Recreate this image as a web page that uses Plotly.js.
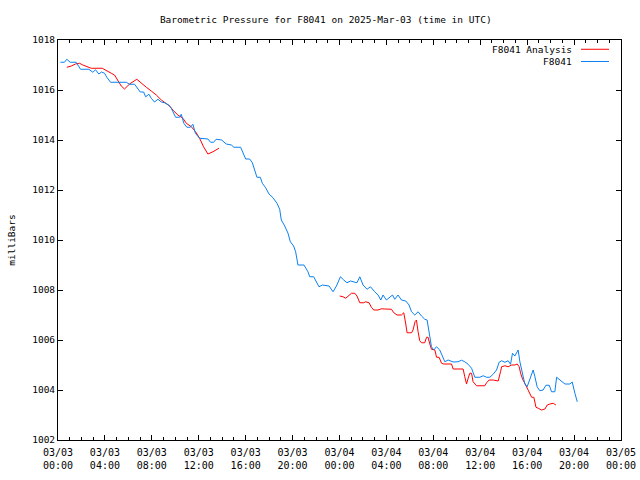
<!DOCTYPE html>
<html>
<head>
<meta charset="utf-8">
<script src="https://cdn.plot.ly/plotly-3.0.1.min.js"></script>
<style>html,body{margin:0;padding:0;background:#fff;}#chart{width:640px;height:480px;}</style>
</head>
<body>
<div id="chart"></div>
<script>
// Hours since 2025-03-03 00:00 UTC
const stationHours = [0.21,0.55,0.75,1.04,1.55,1.77,1.92,2.63,2.97,3.20,3.48,3.71,3.97,4.16,4.48,5.82,6.10,6.53,6.72,7.01,7.30,7.47,7.75,7.95,8.23,8.52,8.81,9.09,9.45,9.66,10.03,10.37,10.51,10.73,10.99,11.28,11.50,11.71,12.07,12.78,13.01,13.27,13.48,13.95,14.35,14.78,15.0,15.57,16.0,16.34,16.57,16.77,16.96,17.25,17.42,17.70,17.99,18.33,18.67,18.90,19.04,19.33,19.61,19.81,20.09,20.26,20.46,20.97,21.31,21.46,21.80,22.25,22.54,23.11,23.45,23.74,24.08,24.36,24.64,24.93,25.49,25.73,26.01,26.35,26.64,27.0,27.29,27.52,27.71,28.0,28.28,28.52,28.71,28.99,29.28,29.65,29.93,30.14,30.42,30.70,30.99,31.27,31.47,31.70,31.84,32.04,32.27,32.55,32.78,32.98,33.26,33.69,34.11,34.40,34.68,34.97,35.26,35.39,35.54,35.96,36.25,36.54,36.82,37.10,37.39,37.61,37.82,38.10,38.38,38.58,38.75,38.95,39.10,39.23,39.38,39.61,39.80,40.0,40.23,40.51,40.66,40.85,41.08,41.36,41.60,41.88,42.08,42.36,42.51,42.79,43.22,43.64,43.84,44.07,44.27];
const stationPressure = [1017.11,1017.11,1017.23,1017.11,1017.11,1016.96,1016.83,1016.83,1016.71,1016.81,1016.64,1016.72,1016.67,1016.51,1016.31,1016.31,1016.23,1016.23,1016.11,1015.92,1015.92,1015.73,1015.83,1015.67,1015.52,1015.63,1015.52,1015.49,1015.40,1015.27,1014.91,1014.91,1015.03,1014.67,1014.51,1014.51,1014.63,1014.27,1014.07,1014.04,1013.91,1013.91,1014.03,1014.0,1013.84,1013.80,1013.71,1013.71,1013.24,1013.24,1013.09,1012.80,1012.51,1012.51,1012.27,1012.09,1011.84,1011.69,1011.47,1011.23,1010.80,1010.56,1010.27,1009.93,1009.76,1009.53,1009.0,1009.0,1008.73,1008.53,1008.53,1008.13,1008.2,1008.16,1007.93,1008.16,1008.53,1008.40,1008.29,1008.36,1008.29,1008.53,1008.2,1008.03,1008.13,1007.93,1007.8,1007.6,1007.8,1007.6,1007.73,1007.8,1007.63,1007.8,1007.6,1007.56,1007.4,1007.13,1007.0,1007.13,1006.96,1006.83,1006.8,1006.2,1005.73,1005.6,1005.73,1005.6,1005.33,1005.13,1005.2,1005.12,1005.13,1005.19,1005.13,1005.03,1004.87,1004.67,1004.51,1004.51,1004.57,1004.51,1004.51,1004.63,1004.80,1005.11,1005.17,1005.11,1005.17,1005.03,1005.47,1005.36,1005.53,1005.6,1005.13,1004.6,1004.24,1004.13,1004.4,1004.8,1004.53,1004.13,1003.97,1004.0,1004.19,1004.19,1003.93,1003.93,1004.51,1004.40,1004.24,1004.24,1004.32,1003.87,1003.53];

const analysisHours = [0.75,1.13,1.49,1.83,2.12,2.54,2.83,3.77,4.11,4.54,4.82,5.10,5.39,5.67,6.10,6.72,7.10,7.53,7.95,8.38,8.81,9.17,9.51,9.85,10.22,10.65,10.94,11.37,11.73,12.07,12.41,12.78,13.21,13.72,18.9,24.02,24.30,24.53,24.81,25.02,25.30,25.49,25.73,26.07,26.21,26.52,26.72,26.92,27.29,27.58,27.86,28.43,28.63,28.91,29.28,29.48,29.65,29.76,30.14,30.27,30.44,30.56,30.70,30.84,30.99,31.27,31.42,31.55,31.70,31.84,32.13,32.27,32.49,32.70,32.89,33.55,33.69,34.54,34.68,34.83,34.97,35.11,35.26,35.39,35.68,36.39,36.54,36.76,37.10,37.53,37.73,37.82,38.10,38.38,38.67,38.95,39.15,39.32,39.44,39.61,39.80,40.0,40.17,40.38,40.57,40.75,40.94,41.23,41.51,41.71,41.94,42.22,42.45];
const analysisPressure = [1016.91,1016.96,1017.04,1017.07,1017.0,1016.91,1016.87,1016.87,1016.77,1016.67,1016.6,1016.4,1016.16,1016.04,1016.24,1016.43,1016.27,1016.11,1015.96,1015.8,1015.6,1015.47,1015.36,1015.17,1015.0,1014.87,1014.67,1014.53,1014.33,1014.07,1013.73,1013.44,1013.53,1013.67,null,1007.76,1007.73,1007.67,1007.8,1007.87,1007.87,1007.76,1007.49,1007.49,1007.53,1007.49,1007.31,1007.2,1007.2,1007.25,1007.24,1007.23,1007.09,1007.0,1007.0,1007.09,1006.64,1006.29,1006.29,1006.4,1006.73,1006.8,1006.33,1005.97,1005.89,1005.89,1006.11,1006.11,1005.84,1005.63,1005.6,1005.31,1005.31,1005.07,1005.04,1005.04,1004.84,1004.84,1004.53,1004.24,1004.47,1004.67,1004.67,1004.33,1004.17,1004.17,1004.29,1004.4,1004.4,1004.36,1004.73,1004.93,1004.97,1004.93,1005.0,1005.0,1005.04,1004.93,1004.67,1004.43,1004.27,1004.07,1003.87,1003.71,1003.71,1003.31,1003.27,1003.2,1003.24,1003.4,1003.44,1003.47,1003.4];

const seriesNames = ['F8041 Analysis', 'F8041'];
const seriesColors = ['#ff0000', '#0a80f0'];
const titleText = 'Barometric Pressure for F8041 on 2025-Mar-03 (time in UTC)';
const yTitle = 'milliBars';
const xStart = '2025-03-03 00:00:00';
const xEnd = '2025-03-05 00:00:00';

function toDate(h) {
  const ms = Date.UTC(2025, 2, 3) + Math.round(h * 3600000);
  return new Date(ms).toISOString().replace('T', ' ').slice(0, 19);
}

const font = {family: 'DejaVu Sans Mono, monospace', size: 9.5, color: '#000'};
const xFont = {family: 'DejaVu Sans Mono, monospace', size: 10, color: '#000'};

const traces = [
  {x: analysisHours.map(toDate), y: analysisPressure, name: seriesNames[0], type: 'scatter', mode: 'lines',
   line: {color: seriesColors[0], width: 1}, connectgaps: false},
  {x: stationHours.map(toDate), y: stationPressure, name: seriesNames[1], type: 'scatter', mode: 'lines',
   line: {color: seriesColors[1], width: 1}}
];

const legendY = [0.9768, 0.9463];
const annotations = seriesNames.map((n, i) => ({
  text: n, xref: 'paper', yref: 'paper', x: 0.9164, y: legendY[i], xanchor: 'right', yanchor: 'middle',
  showarrow: false, font: font
}));
const shapes = seriesNames.map((n, i) => ({
  type: 'line', xref: 'paper', yref: 'paper', x0: 0.9289, x1: 0.9787, y0: legendY[i], y1: legendY[i],
  line: {color: seriesColors[i], width: 1}
}));

const layout = {
  width: 640, height: 480,
  margin: {l: 58, r: 19, t: 40, b: 40, pad: 0},
  paper_bgcolor: '#fff', plot_bgcolor: '#fff',
  font: font,
  showlegend: false,
  title: {text: titleText, font: font, x: 0.509, xref: 'container', xanchor: 'center', y: 0.96, yref: 'container', yanchor: 'middle'},
  xaxis: {
    type: 'date', range: [xStart, xEnd], dtick: 4 * 3600000, tick0: xStart,
    tickformat: '%m/%d<br>%H:%M', ticks: 'inside', ticklen: 5, tickcolor: '#000',
    ticklabelstandoff: 3,
    minor: {dtick: 3600000, tick0: xStart, ticks: 'inside', ticklen: 3, tickcolor: '#000', showgrid: false},
    showline: true, linecolor: '#000', linewidth: 1, mirror: 'allticks', showgrid: false, zeroline: false,
    tickfont: xFont, automargin: false
  },
  yaxis: {
    range: [1002, 1018], dtick: 2, tick0: 1002, ticks: 'inside', ticklen: 5, tickcolor: '#000',
    showline: true, linecolor: '#000', linewidth: 1, mirror: 'allticks', showgrid: false, zeroline: false,
    tickfont: font, automargin: false,
    title: {text: yTitle, font: font, standoff: 14}
  },
  annotations: annotations,
  shapes: shapes
};

Plotly.newPlot('chart', traces, layout, {staticPlot: true, displayModeBar: false});
</script>
</body>
</html>
